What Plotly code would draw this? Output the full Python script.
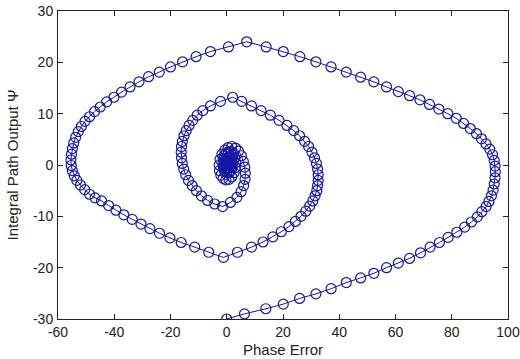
import plotly.graph_objects as go

phase_error = [
    0, 6.3, 13.9, 20.1, 25.9, 31.7, 37.1, 42.5, 47.6, 52.3, 56.8, 61.0, 65.0, 68.9, 72.3,
    75.6, 78.7, 81.8, 84.6, 87.0, 89.1, 90.7, 92.2, 93.2, 94.1, 94.7, 95.1, 95.4, 95.5, 95.4,
    95.1, 94.5, 93.5, 92.2, 90.6, 88.8, 86.6, 84.2, 81.6, 78.6, 75.4, 72.1, 68.7, 65.0, 61.0,
    56.8, 52.3, 47.6, 42.5, 37.1, 31.7, 26.0, 20.1, 14.0, 7.1, 0.6, -5.8, -10.9, -15.7, -20.0,
    -24.0, -27.8, -31.2, -34.4, -37.4, -40.1, -42.7, -45.0, -47.0, -48.8, -50.4, -51.7, -52.8, -53.7, -54.4,
    -54.9, -55.2, -55.4, -55.3, -54.9, -54.2, -53.3, -52.0, -50.5, -48.8, -46.8, -44.5, -42.0, -39.4, -36.6,
    -33.6, -30.5, -27.3, -23.9, -20.2, -16.2, -11.4, -6.4, -1.2, 3.8, 8.8, 12.9, 16.4, 19.4, 22.1,
    24.4, 26.4, 28.1, 29.5, 30.6, 31.4, 32.0, 32.3, 32.5, 32.5, 32.3, 31.9, 31.2, 30.3, 29.1,
    27.7, 25.9, 23.8, 21.4, 18.6, 15.5, 12.2, 8.8, 5.3, 2.1, -2.2, -5.8, -8.5, -10.5, -12.1,
    -13.4, -14.4, -15.2, -15.8, -16.1, -16.2, -16.1, -15.8, -15.3, -14.6, -13.6, -12.3, -10.8, -9.0, -6.8,
    -4.3, -1.5, 1.3, 3.6, 5.1, 6.0, 6.5, 6.6, 6.4, 5.9, 5.2, 4.2, 3.1, 1.8, 0.5,
    -0.7, -1.7, -2.4, -2.7, -2.6, -2.1, -1.3, -0.3, 0.8, 1.8, 2.6, 3.1, 3.2, 2.9, 2.3,
    1.5, 0.6, -0.2, -0.9, -1.3, -1.4, -1.2, -0.7, 0.0, 0.8, 1.5, 1.9, 2.0, 1.8, 1.3,
    0.7, 0.1, -0.4, -0.6, -0.6, -0.3, 0.2, 0.7, 1.0, 1.1, 0.9, 0.5, 0.1, 0.0, 0.2, 0.4,
]
integral_output = [
    -30, -29.0, -28.0, -27.1, -26.0, -25.1, -24.1, -22.9, -22.0, -21.1, -20.0, -19.1, -18.2, -17.1, -16.0,
    -15.1, -14.1, -13.1, -12.1, -11.1, -10.1, -9.1, -8.1, -7.1, -6.0, -4.9, -3.7, -2.5, -1.3, -0.2,
    0.9, 2.0, 3.1, 4.1, 5.1, 6.1, 7.1, 8.1, 9.1, 10.0, 10.9, 11.8, 12.7, 13.5, 14.3,
    15.2, 16.2, 17.1, 18.1, 19.1, 20.1, 21.1, 22.1, 23.0, 24.0, 23.0, 22.1, 21.1, 20.1, 19.1,
    18.1, 17.2, 16.2, 15.2, 14.2, 13.2, 12.3, 11.3, 10.4, 9.4, 8.5, 7.5, 6.5, 5.4, 4.3,
    3.2, 2.1, 1.0, -0.1, -1.1, -2.1, -3.0, -3.9, -4.8, -5.7, -6.4, -7.0, -7.9, -8.8, -9.7,
    -10.6, -11.5, -12.4, -13.3, -14.2, -15.1, -16.0, -17.0, -18.0, -17.0, -16.0, -15.0, -14.0, -13.0, -12.0,
    -11.0, -10.0, -9.0, -8.0, -7.0, -6.0, -5.0, -4.0, -3.0, -1.9, -0.8, 0.3, 1.4, 2.5, 3.6,
    4.6, 5.7, 6.7, 7.7, 8.7, 9.7, 10.6, 11.5, 12.4, 13.2, 12.4, 11.5, 10.6, 9.7, 8.7,
    7.7, 6.7, 5.7, 4.6, 3.6, 2.5, 1.4, 0.3, -0.8, -1.9, -3.0, -4.0, -5.0, -6.0, -6.9,
    -7.6, -8.1, -7.3, -6.3, -5.2, -4.0, -2.8, -1.6, -0.4, 0.7, 1.8, 2.7, 3.3, 3.6, 3.4,
    2.9, 2.1, 1.1, 0.0, -1.1, -2.0, -2.6, -2.9, -2.8, -2.3, -1.5, -0.5, 0.5, 1.4, 2.1,
    2.5, 2.6, 2.3, 1.8, 1.1, 0.3, -0.5, -1.1, -1.5, -1.5, -1.1, -0.5, 0.2, 0.8, 1.3,
    1.5, 1.4, 1.0, 0.5, -0.1, -0.5, -0.7, -0.6, -0.2, 0.3, 0.7, 0.8, 0.6, 0.3, 0.1, 0.2,
]

x_ticks = [-60, -40, -20, 0, 20, 40, 60, 80, 100]
y_ticks = [-30, -20, -10, 0, 10, 20, 30]
x_title = "Phase Error"
y_title = "Integral Path Output Ψ"

FONT = "Liberation Sans, Arial, sans-serif"

fig = go.Figure()
fig.add_trace(go.Scatter(
    x=phase_error, y=integral_output, mode="lines+markers",
    line=dict(color="#1616a6", width=1),
    marker=dict(symbol="circle-open", size=10, color="#1616a6", line=dict(width=1.2)),
    showlegend=False,
))

axis_common = dict(
    showgrid=False, zeroline=False, showline=True, linecolor="#222", linewidth=1,
    mirror="ticks", ticks="inside", ticklen=5, tickcolor="#222", automargin=False,
    tickfont=dict(family=FONT, size=14, color="#222"),
)
fig.update_xaxes(range=[-60, 100], tickvals=x_ticks, ticktext=[str(v) for v in x_ticks],
                 ticklabelstandoff=0, **axis_common)
fig.update_yaxes(range=[-30, 30], tickvals=y_ticks, ticktext=[str(v) for v in y_ticks],
                 ticklabelstandoff=1,
                 title=dict(text=y_title, font=dict(family=FONT, size=15, color="#222"), standoff=10),
                 **axis_common)
fig.add_annotation(text=x_title, xref="paper", yref="paper", x=0.5, y=-30 / 308,
                   xanchor="center", yanchor="middle", showarrow=False,
                   font=dict(family=FONT, size=15, color="#222"))
fig.update_layout(
    width=520, height=359, margin=dict(l=58, r=12, t=11, b=40),
    paper_bgcolor="white", plot_bgcolor="white",
)
fig.write_html("out.html")
